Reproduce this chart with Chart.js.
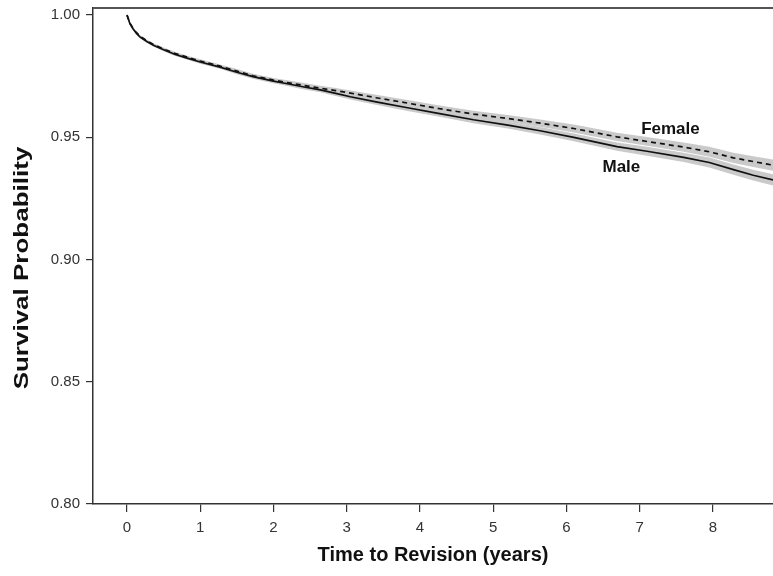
<!DOCTYPE html>
<html>
<head>
<meta charset="utf-8">
<script src="https://cdn.jsdelivr.net/npm/chart.js@4.4.1/dist/chart.umd.min.js"></script>
<style>
  html, body { margin: 0; padding: 0; background: #fff; }
</style>
</head>
<body>
<canvas id="chart" width="773" height="576"></canvas>
<script>
// years since surgery
const years = [0, 0.04, 0.08, 0.13, 0.18, 0.27, 0.36, 0.5, 0.65, 0.82, 1.0, 1.27, 1.5, 1.72,
  2.0, 2.19, 2.4, 2.64, 2.85, 3.05, 3.4, 3.83, 4.25, 4.73, 5.2, 5.64, 6.1, 6.69, 7.1, 7.6,
  7.95, 8.28, 8.55, 8.82];

const maleSurv = [1.000, 0.9965, 0.9945, 0.9925, 0.9910, 0.9892, 0.9877, 0.9858, 0.9840, 0.9824,
  0.9808, 0.9787, 0.9766, 0.9748, 0.9730, 0.9719, 0.9707, 0.9694, 0.9680, 0.9666, 0.9645, 0.9621,
  0.9598, 0.9572, 0.9550, 0.9527, 0.9500, 0.9462, 0.9443, 0.9418, 0.9397, 0.9368, 0.9345, 0.9326];

const femaleSurv = [1.000, 0.9967, 0.9947, 0.9928, 0.9913, 0.9895, 0.9880, 0.9861, 0.9844, 0.9828,
  0.9812, 0.9791, 0.9771, 0.9752, 0.9734, 0.9724, 0.9713, 0.9701, 0.9691, 0.9681, 0.9662, 0.9640,
  0.9618, 0.9595, 0.9577, 0.9558, 0.9536, 0.9502, 0.9483, 0.9460, 0.9441, 0.9416, 0.9401, 0.9386];

// half width of the grey confidence band
const maleBand = [0, 0.0003, 0.0004, 0.0004, 0.0005, 0.0005, 0.0005, 0.0006, 0.0006, 0.0006,
  0.0007, 0.0007, 0.0008, 0.0008, 0.0009, 0.0009, 0.0010, 0.0010, 0.0011, 0.0011, 0.0012, 0.0013,
  0.0013, 0.0014, 0.0014, 0.0015, 0.0016, 0.0017, 0.0018, 0.0019, 0.0020, 0.0021, 0.0022, 0.0023];

const femaleBand = [0, 0.0003, 0.0004, 0.0004, 0.0005, 0.0005, 0.0005, 0.0006, 0.0006, 0.0006,
  0.0007, 0.0007, 0.0008, 0.0008, 0.0009, 0.0009, 0.0010, 0.0010, 0.0011, 0.0011, 0.0012, 0.0013,
  0.0013, 0.0014, 0.0014, 0.0015, 0.0016, 0.0017, 0.0018, 0.0019, 0.0020, 0.0021, 0.0022, 0.0023];

const xTicks = [0, 1, 2, 3, 4, 5, 6, 7, 8];
const yTicks = [0.80, 0.85, 0.90, 0.95, 1.00];

const curveLabels = [
  { text: 'Female', x: 7.42, y: 0.9533 },
  { text: 'Male', x: 6.75, y: 0.9377 }
];

const FONT = '"Liberation Sans", Arial, Helvetica, sans-serif';
const BAND = '#cacaca';

const pts = (vals) => years.map((t, i) => ({ x: t, y: vals[i] }));
const lower = (vals, hw) => years.map((t, i) => ({ x: t, y: vals[i] - hw[i] }));
const upper = (vals, hw) => years.map((t, i) => ({ x: t, y: vals[i] + hw[i] }));

const extras = {
  id: 'extras',
  afterDraw(chart) {
    const { ctx, chartArea, scales: { x, y } } = chart;
    ctx.save();
    // top frame line
    ctx.strokeStyle = '#555';
    ctx.lineWidth = 2;
    ctx.beginPath();
    ctx.moveTo(chartArea.left, chartArea.top);
    ctx.lineTo(chartArea.right, chartArea.top);
    ctx.stroke();

    ctx.fillStyle = '#111';
    ctx.textAlign = 'center';
    ctx.textBaseline = 'middle';
    ctx.font = 'bold 17px ' + FONT;
    curveLabels.forEach((l) => {
      ctx.fillText(l.text, x.getPixelForValue(l.x), y.getPixelForValue(l.y));
    });

    // y axis title (stretched along its length like the original)
    ctx.translate(22, 268);
    ctx.rotate(-Math.PI / 2);
    ctx.scale(1.3, 1);
    ctx.font = 'bold 20px ' + FONT;
    ctx.fillText('Survival Probability', 0, 0);
    ctx.restore();
  }
};

new Chart(document.getElementById('chart'), {
  type: 'line',
  data: {
    datasets: [
      { data: lower(maleSurv, maleBand), borderWidth: 0, pointRadius: 0, fill: false, order: 2 },
      { data: upper(maleSurv, maleBand), borderWidth: 0, pointRadius: 0, fill: '-1', backgroundColor: BAND, order: 2 },
      { data: lower(femaleSurv, femaleBand), borderWidth: 0, pointRadius: 0, fill: false, order: 2 },
      { data: upper(femaleSurv, femaleBand), borderWidth: 0, pointRadius: 0, fill: '-1', backgroundColor: BAND, order: 2 },
      { label: 'Male', data: pts(maleSurv), borderColor: '#111', borderWidth: 1.7, pointRadius: 0, tension: 0, fill: false, order: 0 },
      { label: 'Female', data: pts(femaleSurv), borderColor: '#111', borderWidth: 1.7, borderDash: [5, 4], pointRadius: 0, tension: 0, fill: false, order: 0 }
    ]
  },
  options: {
    responsive: false,
    animation: false,
    layout: { padding: { top: 8, right: 0, left: 0, bottom: 0 } },
    plugins: {
      legend: { display: false },
      tooltip: { enabled: false },
      filler: { drawTime: 'beforeDatasetsDraw' }
    },
    scales: {
      x: {
        type: 'linear',
        min: -0.464,
        max: 8.82,
        afterBuildTicks: (s) => { s.ticks = xTicks.map((v) => ({ value: v })); },
        afterFit: (s) => { s.height = 72; s.paddingLeft = 0; s.paddingRight = 0; },
        grid: { display: true, drawOnChartArea: false, drawTicks: true, tickLength: 8, color: '#333', lineWidth: 1.2 },
        border: { display: true, color: '#333', width: 1.5 },
        ticks: { color: '#333', padding: 7, font: { family: FONT, size: 15 }, callback: (v) => String(v) },
        title: {
          display: true,
          text: 'Time to Revision (years)',
          color: '#111',
          font: { family: FONT, size: 20, weight: 'bold' },
          padding: { top: 0, bottom: 9 }
        }
      },
      y: {
        type: 'linear',
        min: 0.80,
        max: 1.0029,
        afterBuildTicks: (s) => { s.ticks = yTicks.map((v) => ({ value: v })); },
        afterFit: (s) => { s.width = 93; s.paddingTop = 0; s.paddingBottom = 0; },
        grid: { display: true, drawOnChartArea: false, drawTicks: true, tickLength: 7, color: '#333', lineWidth: 1.2 },
        border: { display: true, color: '#333', width: 1.5 },
        ticks: { color: '#333', padding: 6, font: { family: FONT, size: 15 }, callback: (v) => v.toFixed(2) }
      }
    }
  },
  plugins: [extras]
});
</script>
</body>
</html>
